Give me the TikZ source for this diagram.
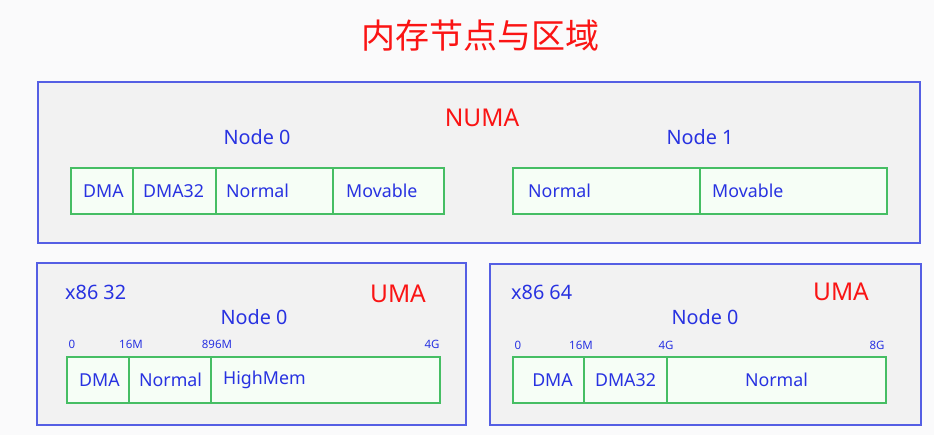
\documentclass[tikz,border=0pt]{standalone}
\usepackage{fontspec}
\setmainfont{Noto Sans}
\newfontfamily\cjk{Noto Sans CJK SC}
\definecolor{tblue}{RGB}{40,50,225}
\definecolor{tred}{RGB}{250,20,20}
\definecolor{bblue}{RGB}{85,95,228}
\definecolor{bgray}{RGB}{242,242,242}
\definecolor{zgreen}{RGB}{70,190,100}
\definecolor{zfill}{RGB}{246,254,246}
\definecolor{pagebg}{RGB}{250,250,251}
\tikzset{
  frame/.style={draw=bblue, fill=bgray, line width=1.2pt, inner sep=0pt, outer sep=0pt, anchor=north west},
  zone/.style={draw=zgreen, fill=zfill, line width=1.3pt, inner sep=0pt, outer sep=0pt, anchor=north west, minimum height=46pt},
  ztext/.style={text=tblue, font=\fontsize{17.8}{20}\selectfont, inner sep=0pt, anchor=west},
  ctext/.style={text=tblue, font=\fontsize{17.8}{20}\selectfont, inner sep=0pt},
  nodelbl/.style={text=tblue, font=\fontsize{19.8}{22}\selectfont, inner sep=0pt},
  archlbl/.style={text=tblue, font=\fontsize{19.8}{22}\selectfont, inner sep=0pt, anchor=west},
  kind/.style={text=tred, font=\fontsize{24.5}{28}\selectfont, inner sep=0pt},
  tick/.style={text=tblue, font=\fontsize{11.5}{13}\selectfont, inner sep=0pt},
}
\begin{document}
\begin{tikzpicture}[x=1pt,y=-1pt]
\fill[pagebg] (0,0) rectangle (934,435);
\useasboundingbox (0,0) rectangle (934,435);

\node[text=tred, font=\cjk\fontsize{34}{38}\selectfont, inner sep=0pt] (title) at (480,36) {内存节点与区域};

% NUMA frame
\node[frame, minimum width=882pt, minimum height=161pt] (numa) at (38,82) {};
\node[kind] (numalbl) at (482,118) {NUMA};
\node[nodelbl] (n0lbl) at (257,137) {Node 0};
\node[nodelbl] (n1lbl) at (700,137) {Node 1};

\node[zone, minimum width=62pt] (a1) at (71,168) {};
\node[zone, minimum width=83pt] (a2) at (a1.north east) {};
\node[zone, minimum width=117pt] (a3) at (a2.north east) {};
\node[zone, minimum width=111pt] (a4) at (a3.north east) {};
\node[ztext] (a1t) at ([xshift=12pt]a1.west) {DMA};
\node[ztext] (a2t) at ([xshift=10pt]a2.west) {DMA32};
\node[ztext] (a3t) at ([xshift=10pt]a3.west) {Normal};
\node[ztext] (a4t) at ([xshift=13pt]a4.west) {Movable};

\node[zone, minimum width=187pt] (b1) at (513,168) {};
\node[zone, minimum width=187pt] (b2) at (b1.north east) {};
\node[ztext] (b1t) at ([xshift=15pt]b1.west) {Normal};
\node[ztext] (b2t) at ([xshift=12pt]b2.west) {Movable};

% x86 32 frame
\node[frame, minimum width=429pt, minimum height=162pt] (u32) at (37,263) {};
\node[archlbl] (u32arch) at (65,292) {x86 32};
\node[kind] (u32kind) at (398,294) {UMA};
\node[nodelbl] (u32node) at (254,317) {Node 0};
\node[tick] (t32a) at (72,344) {0};
\node[tick] (t32b) at (131,344) {16M};
\node[tick] (t32c) at (217,344) {896M};
\node[tick] (t32d) at (432,344) {4G};
\node[zone, minimum width=62pt] (c1) at (67,357) {};
\node[zone, minimum width=82pt] (c2) at (c1.north east) {};
\node[zone, minimum width=229pt] (c3) at (c2.north east) {};
\node[ztext] (c1t) at ([xshift=12pt]c1.west) {DMA};
\node[ztext] (c2t) at ([xshift=10pt]c2.west) {Normal};
\node[ztext] (c3t) at ([xshift=12pt]c3.west) {HighMem};

% x86 64 frame
\node[frame, minimum width=431pt, minimum height=161pt] (u64) at (490,264) {};
\node[archlbl] (u64arch) at (511,292) {x86 64};
\node[kind] (u64kind) at (841,292) {UMA};
\node[nodelbl] (u64node) at (705,317) {Node 0};
\node[tick] (t64a) at (518,345) {0};
\node[tick] (t64b) at (581,345) {16M};
\node[tick] (t64c) at (666,345) {4G};
\node[tick] (t64d) at (877,345) {8G};
\node[zone, minimum width=71pt] (d1) at (513,357) {};
\node[zone, minimum width=83pt] (d2) at (d1.north east) {};
\node[zone, minimum width=219pt] (d3) at (d2.north east) {};
\node[ctext] (d1t) at ([xshift=4pt]d1.center) {DMA};
\node[ctext] (d2t) at (d2.center) {DMA32};
\node[ctext] (d3t) at (d3.center) {Normal};
\end{tikzpicture}
\end{document}
